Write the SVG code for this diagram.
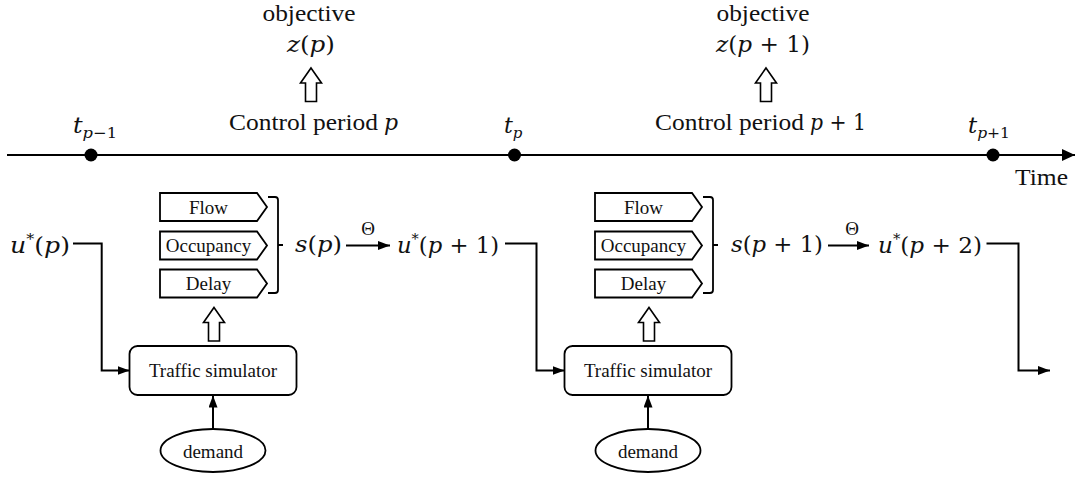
<svg xmlns="http://www.w3.org/2000/svg" width="1078" height="477" viewBox="0 0 1078 477">
  <defs>
    <style>
      .ln { stroke: #000; stroke-width: 2; fill: none; }
      .box { fill: #fff; stroke: #000; stroke-width: 1.8; }
      .hollow { fill: #fff; stroke: #000; stroke-width: 1.6; stroke-linejoin: miter; }
      .lbl { font-family: "Liberation Serif", "Times New Roman", serif; font-size: 19px; text-anchor: middle; fill: #111; }
      .big { font-family: "Liberation Serif", "Times New Roman", serif; font-size: 24px; fill: #111; }
      .m { font-family: "DejaVu Serif", "Liberation Serif", serif; font-size: 22px; fill: #111; }
      .i { font-style: italic; }
      .sub { font-size: 15px; }
      .sup { font-size: 14px; }
    </style>
    <marker id="ah" markerUnits="userSpaceOnUse" markerWidth="12" markerHeight="9" refX="12" refY="4.5" orient="auto">
      <path d="M0,0 L12,4.5 L0,9 Z" fill="#000"/>
    </marker>
    <marker id="ahL" markerUnits="userSpaceOnUse" markerWidth="13" markerHeight="12" refX="13" refY="6" orient="auto">
      <path d="M0,0 L13,6 L0,12 Z" fill="#000"/>
    </marker>
    <!-- open block arrow pointing up, tip at origin -->
    <path id="hollowUp" d="M0,0 L10.5,15 L5.5,15 L5.5,33.5 L-5.5,33.5 L-5.5,15 L-10.5,15 Z"/>
    <!-- right-pointing tag shape for measurement items -->
    <path id="tag" d="M0,0 H97 L107,14 L97,28 H0 Z"/>
    <!-- closing bracket grouping the measurements -->
    <path id="brace" d="M0,0 H7 Q10,0 10,3 V93 Q10,96 7,96 H0 M10,48 H15"/>
  </defs>

  <!-- time axis -->
  <g id="timeline">
    <line class="ln" x1="7" y1="155" x2="1075" y2="155" marker-end="url(#ahL)"/>
    <circle cx="91" cy="155" r="6.5" fill="#000"/>
    <circle cx="514.5" cy="155" r="6.5" fill="#000"/>
    <circle cx="993" cy="155" r="6.5" fill="#000"/>
    <text class="m" x="73" y="133" textLength="44" lengthAdjust="spacingAndGlyphs"><tspan class="i">t</tspan><tspan class="sub i" dy="5">p</tspan><tspan class="sub">−1</tspan></text>
    <text class="m" x="504" y="133"><tspan class="i">t</tspan><tspan class="sub i" dy="5">p</tspan></text>
    <text class="m" x="968" y="133" textLength="42" lengthAdjust="spacingAndGlyphs"><tspan class="i">t</tspan><tspan class="sub i" dy="5">p</tspan><tspan class="sub">+1</tspan></text>
    <text class="big" x="1015" y="185" textLength="53" lengthAdjust="spacingAndGlyphs">Time</text>
  </g>

  <!-- period p: objective -->
  <g id="period-p">
    <text class="big" x="309" y="21" text-anchor="middle" textLength="93" lengthAdjust="spacingAndGlyphs">objective</text>
    <text class="m" x="287" y="52" textLength="48" lengthAdjust="spacingAndGlyphs"><tspan class="i">z</tspan>(<tspan class="i">p</tspan>)</text>
    <use href="#hollowUp" x="311" y="68" class="hollow"/>
    <text class="big" x="229" y="130" textLength="149" lengthAdjust="spacingAndGlyphs">Control period</text>
    <text class="m i" x="384" y="130">p</text>
  </g>

  <!-- period p+1: objective -->
  <g id="period-p1">
    <text class="big" x="763" y="21" text-anchor="middle" textLength="93" lengthAdjust="spacingAndGlyphs">objective</text>
    <text class="m" x="716" y="52" textLength="94" lengthAdjust="spacingAndGlyphs"><tspan class="i">z</tspan>(<tspan class="i">p</tspan> + 1)</text>
    <use href="#hollowUp" x="766" y="68" class="hollow"/>
    <text class="big" x="655" y="130" textLength="149" lengthAdjust="spacingAndGlyphs">Control period</text>
    <text class="m" x="810" y="130" textLength="56" lengthAdjust="spacingAndGlyphs"><tspan class="i">p</tspan> + 1</text>
  </g>

  <!-- first control step -->
  <g id="u-p">
    <text class="m" x="10" y="253" textLength="60" lengthAdjust="spacingAndGlyphs"><tspan class="i">u</tspan><tspan class="sup" dy="-9">*</tspan><tspan dy="9">(</tspan><tspan class="i">p</tspan>)</text>
  </g>
  <g id="measures-p">
    <use href="#tag" x="160" y="193" class="box"/>
    <use href="#tag" x="160" y="231.5" class="box"/>
    <use href="#tag" x="160" y="269.5" class="box"/>
    <text class="lbl" x="208.5" y="213.5">Flow</text>
    <text class="lbl" x="208.5" y="252">Occupancy</text>
    <text class="lbl" x="208.5" y="290">Delay</text>
    <use href="#brace" x="268" y="197" class="ln" style="stroke-width:1.8"/>
    <use href="#hollowUp" x="214" y="307.5" class="hollow"/>
  </g>
  <g id="sim-p">
    <rect class="box" x="129.5" y="346" width="167" height="49" rx="8"/>
    <text class="lbl" x="213" y="377">Traffic simulator</text>
  </g>
  <g id="demand-p">
    <ellipse class="box" cx="213" cy="450.5" rx="52.5" ry="21.5"/>
    <text class="lbl" x="213" y="458">demand</text>
  </g>
  <g id="s-p">
    <text class="m" x="295" y="252" textLength="47" lengthAdjust="spacingAndGlyphs"><tspan class="i">s</tspan>(<tspan class="i">p</tspan>)</text>
    <text class="lbl" x="368" y="235">Θ</text>
  </g>
  <g id="u-p1">
    <text class="m" x="397" y="253" textLength="102" lengthAdjust="spacingAndGlyphs"><tspan class="i">u</tspan><tspan class="sup" dy="-9">*</tspan><tspan dy="9">(</tspan><tspan class="i">p</tspan> + 1)</text>
  </g>

  <!-- second control step -->
  <g id="measures-p1">
    <use href="#tag" x="595" y="193" class="box"/>
    <use href="#tag" x="595" y="231.5" class="box"/>
    <use href="#tag" x="595" y="269.5" class="box"/>
    <text class="lbl" x="643.5" y="213.5">Flow</text>
    <text class="lbl" x="643.5" y="252">Occupancy</text>
    <text class="lbl" x="643.5" y="290">Delay</text>
    <use href="#brace" x="703" y="197" class="ln" style="stroke-width:1.8"/>
    <use href="#hollowUp" x="649" y="307.5" class="hollow"/>
  </g>
  <g id="sim-p1">
    <rect class="box" x="564.5" y="346" width="167" height="49" rx="8"/>
    <text class="lbl" x="648" y="377">Traffic simulator</text>
  </g>
  <g id="demand-p1">
    <ellipse class="box" cx="648" cy="450.5" rx="52.5" ry="21.5"/>
    <text class="lbl" x="648" y="458">demand</text>
  </g>
  <g id="s-p1">
    <text class="m" x="731" y="252" textLength="92" lengthAdjust="spacingAndGlyphs"><tspan class="i">s</tspan>(<tspan class="i">p</tspan> + 1)</text>
    <text class="lbl" x="852" y="235">Θ</text>
  </g>
  <g id="u-p2">
    <text class="m" x="878" y="253" textLength="104" lengthAdjust="spacingAndGlyphs"><tspan class="i">u</tspan><tspan class="sup" dy="-9">*</tspan><tspan dy="9">(</tspan><tspan class="i">p</tspan> + 2)</text>
  </g>

  <!-- connectors -->
  <g id="connectors">
    <polyline class="ln" points="73,243.5 101.7,243.5 101.7,370.5 129.5,370.5" marker-end="url(#ah)"/>
    <line class="ln" x1="213" y1="429" x2="213" y2="395.5" marker-end="url(#ah)"/>
    <line class="ln" x1="346" y1="245.5" x2="390" y2="245.5" marker-end="url(#ah)"/>
    <polyline class="ln" points="505,243.5 536.5,243.5 536.5,370.5 564.5,370.5" marker-end="url(#ah)"/>
    <line class="ln" x1="648" y1="429" x2="648" y2="395.5" marker-end="url(#ah)"/>
    <line class="ln" x1="828" y1="245.5" x2="869" y2="245.5" marker-end="url(#ah)"/>
    <polyline class="ln" points="986.5,243.5 1018.5,243.5 1018.5,370.5 1050,370.5" marker-end="url(#ah)"/>
  </g>
</svg>
